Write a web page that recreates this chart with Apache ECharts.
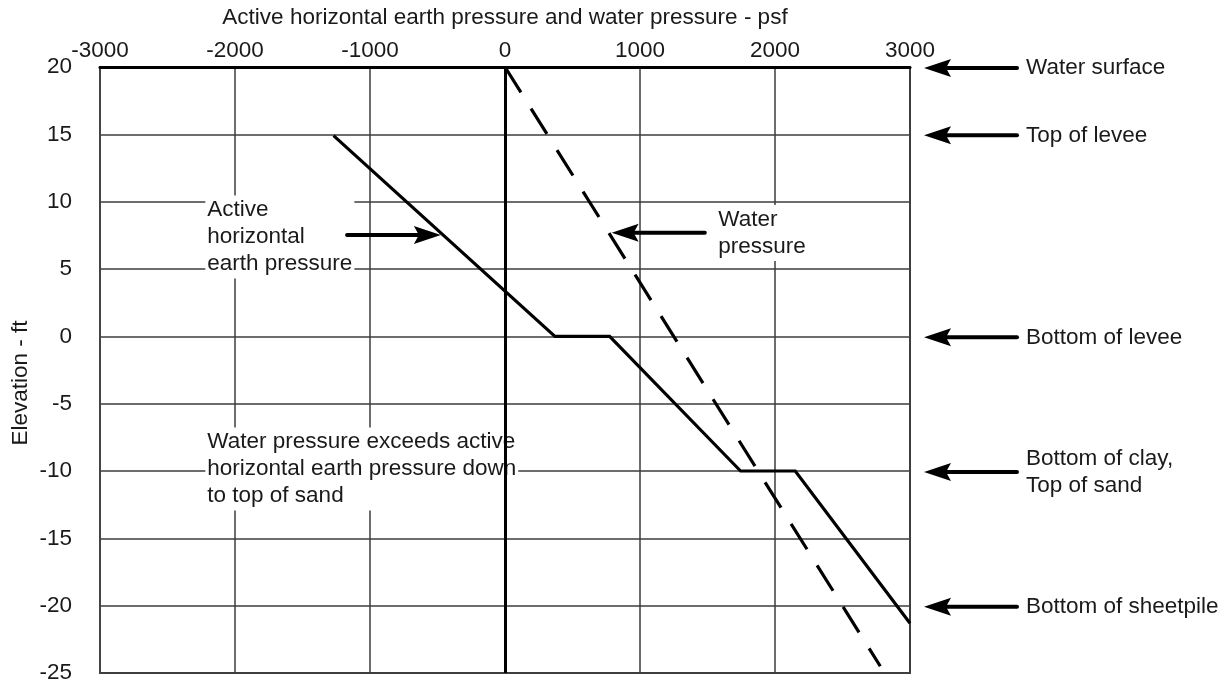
<!DOCTYPE html>
<html>
<head>
<meta charset="utf-8">
<script src="https://cdn.jsdelivr.net/npm/echarts@6/dist/echarts.min.js"></script>
<style>
html,body{margin:0;padding:0;background:#fff;}
#chart{width:1228px;height:681px;}
</style>
</head>
<body>
<div id="chart"></div>
<script>
// ---- data ----
const pressureMin = -3000, pressureMax = 3000, pressureStep = 1000;
const elevationMin = -25, elevationMax = 20, elevationStep = 5;

const activePressure = [-1270, 370, 775, 1745, 2150, 3000];
const activeElevation = [14.9, 0, 0, -10, -10, -21.3];

const waterPressure = [0, 2780];
const waterElevation = [20, -24.5];

const levelElevations = [20, 15, 0, -10, -20];
const levelLabels = ['Water surface', 'Top of levee', 'Bottom of levee', 'Bottom of clay,\nTop of sand', 'Bottom of sheetpile'];

const noteTexts = ['Active\nhorizontal\nearth pressure', 'Water\npressure', 'Water pressure exceeds active\nhorizontal earth pressure down\nto top of sand'];
const notePressure = [-2220, 1565, -2220];
const noteElevation = [7.37, 7.67, -9.85];

const calloutTipPressure = [-475, 790];
const calloutTailPressure = [-1170, 1480];
const calloutElevation = [7.52, 7.69];

const xTitle = 'Active horizontal earth pressure and water pressure - psf';
const yTitle = 'Elevation - ft';

// ---- chart ----
const FONT = '"Liberation Sans", Arial, Helvetica, sans-serif';
const FS = 22.5;
const TXT = '#1a1a1a';
const GRIDC = '#3c3c3c';

const chart = echarts.init(document.getElementById('chart'), null, {renderer: 'canvas'});

function zip(a, b) { return a.map((v, i) => [v, b[i]]); }

const option = {
  animation: false,
  backgroundColor: '#fff',
  grid: {
    left: 100, right: 318, top: 67, bottom: 8,
    show: true, borderColor: '#444', borderWidth: 2, backgroundColor: 'transparent',
    containLabel: false, outerBoundsMode: 'none'
  },
  xAxis: {
    type: 'value', position: 'top',
    min: pressureMin, max: pressureMax, interval: pressureStep,
    name: xTitle, nameLocation: 'middle', nameGap: 38,
    nameTextStyle: {fontSize: FS, fontFamily: FONT, color: TXT},
    axisLine: {show: true, onZero: false, lineStyle: {color: '#000', width: 3}},
    axisTick: {show: false},
    axisLabel: {fontSize: FS, fontFamily: FONT, color: TXT, margin: 5, formatter: v => String(v)},
    splitLine: {show: true, lineStyle: {color: GRIDC, width: 1.5}}
  },
  yAxis: {
    type: 'value',
    min: elevationMin, max: elevationMax, interval: elevationStep,
    axisLine: {show: true, onZero: false, lineStyle: {color: '#444', width: 2}},
    axisTick: {show: false},
    axisLabel: {fontSize: FS, fontFamily: FONT, color: TXT, margin: 28, formatter: v => String(v)},
    splitLine: {show: true, lineStyle: {color: GRIDC, width: 1.5}}
  },
  graphic: [{
    type: 'text', x: 21, y: 383, rotation: Math.PI / 2,
    style: {text: yTitle, font: FS + 'px ' + FONT, fill: TXT, align: 'center', verticalAlign: 'middle'}
  }],
  series: [
    {
      name: 'zero', type: 'line', data: [], z: 2, silent: true,
      markLine: {
        silent: true, symbol: ['none', 'none'], label: {show: false},
        lineStyle: {color: '#000', width: 3, type: 'solid'},
        data: [{xAxis: 0}]
      }
    },
    {
      name: 'notes', type: 'custom', z: 3, clip: false, silent: true,
      data: zip(notePressure, noteElevation),
      encode: {x: 0, y: 1},
      renderItem: function (params, api) {
        const p = api.coord([api.value(0), api.value(1)]);
        return {
          type: 'text', x: p[0], y: p[1],
          style: {
            text: noteTexts[params.dataIndex], font: FS + 'px ' + FONT, fill: TXT,
            align: 'left', verticalAlign: 'middle', lineHeight: 27,
            backgroundColor: '#fff', padding: [1, 2, 1, 2]
          }
        };
      }
    },
    {
      name: 'Active horizontal earth pressure', type: 'line', z: 5, clip: false,
      data: zip(activePressure, activeElevation),
      symbol: 'none',
      lineStyle: {color: '#000', width: 3.2, cap: 'butt', join: 'miter'}
    },
    {
      name: 'Water pressure', type: 'line', z: 5, clip: false,
      data: zip(waterPressure, waterElevation),
      symbol: 'none',
      lineStyle: {color: '#000', width: 3.2, type: [30, 19], dashOffset: 0, cap: 'butt'}
    },
    {
      name: 'callouts', type: 'custom', z: 6, clip: false, silent: true,
      data: calloutTipPressure.map((v, i) => [v, calloutElevation[i], calloutTailPressure[i]]),
      encode: {x: 0, y: 1},
      renderItem: function (params, api) {
        const tip = api.coord([api.value(0), api.value(1)]);
        const tail = api.coord([api.value(2), api.value(1)]);
        const d = tail[0] > tip[0] ? 1 : -1;
        const y = tip[1];
        return {
          type: 'group', children: [
            {type: 'line', shape: {x1: tip[0] + d * 20, y1: y, x2: tail[0], y2: y},
             style: {stroke: '#000', lineWidth: 4, lineCap: 'round'}},
            {type: 'polygon', shape: {points: [[tip[0], y], [tip[0] + d * 27, y - 9], [tip[0] + d * 22, y], [tip[0] + d * 27, y + 9]]},
             style: {fill: '#000'}}
          ]
        };
      }
    },
    {
      name: 'levels', type: 'custom', z: 6, clip: false, silent: true,
      data: levelElevations.map(e => [pressureMax, e]),
      encode: {x: 0, y: 1},
      renderItem: function (params, api) {
        const p = api.coord([api.value(0), api.value(1)]);
        const tip = p[0] + 14, tail = p[0] + 107, y = p[1] + 1;
        return {
          type: 'group', children: [
            {type: 'line', shape: {x1: tip + 20, y1: y, x2: tail, y2: y},
             style: {stroke: '#000', lineWidth: 4, lineCap: 'round'}},
            {type: 'polygon', shape: {points: [[tip, y], [tip + 27, y - 9], [tip + 22, y], [tip + 27, y + 9]]},
             style: {fill: '#000'}},
            {type: 'text', x: tail + 9, y: y,
             style: {text: levelLabels[params.dataIndex], font: FS + 'px ' + FONT, fill: TXT,
                     align: 'left', verticalAlign: 'middle', lineHeight: 27}}
          ]
        };
      }
    }
  ]
};

chart.setOption(option);
</script>
</body>
</html>
